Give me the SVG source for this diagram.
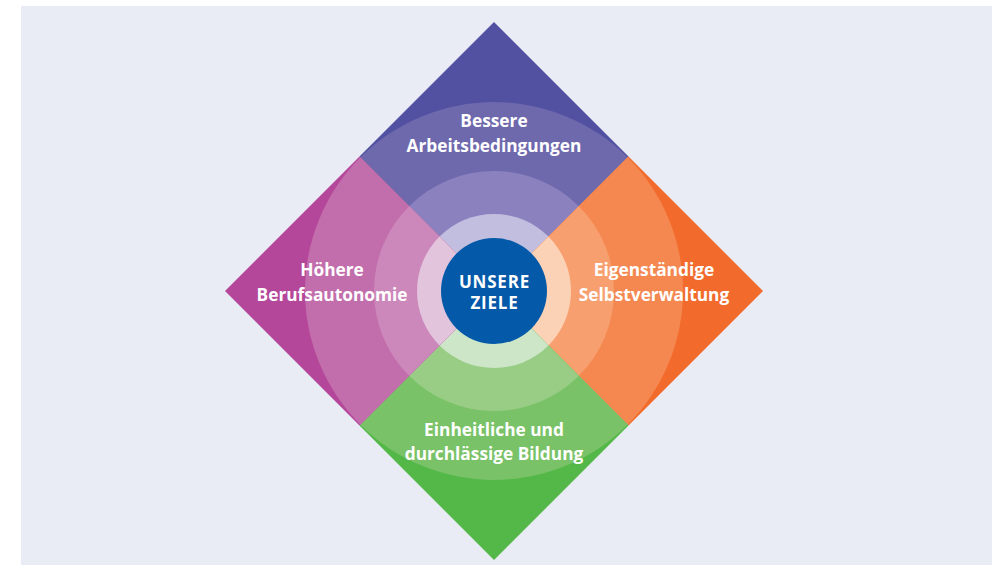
<svg xmlns="http://www.w3.org/2000/svg" width="992" height="565" viewBox="0 0 992 565">
  <style>
    .lbl { font-family: "Open Sans", "Noto Sans", "DejaVu Sans", sans-serif; font-weight: 700; font-size: 17.3px; fill: #ffffff; text-anchor: middle; }
    .ctr { font-family: "Open Sans", "Noto Sans", "DejaVu Sans", sans-serif; font-weight: 700; font-size: 17px; fill: #ffffff; text-anchor: middle; letter-spacing: 0.8px; }
  </style>
  <defs>
    <clipPath id="cTop"><polygon points="494,22 628.5,156.5 494,291 359.5,156.5"/></clipPath>
    <clipPath id="cRight"><polygon points="628.5,156.5 763,291 628.5,425.5 494,291"/></clipPath>
    <clipPath id="cBottom"><polygon points="494,291 628.5,425.5 494,560 359.5,425.5"/></clipPath>
    <clipPath id="cLeft"><polygon points="359.5,156.5 494,291 359.5,425.5 225,291"/></clipPath>
  </defs>
  <rect x="0" y="0" width="992" height="565" fill="#ffffff"/>
  <rect x="21" y="6" width="971" height="559" fill="#EAECF5"/>

  <g id="node-top">
    <polygon points="494,22 628.5,156.5 494,291 359.5,156.5" fill="#5150A1"/>
    <g clip-path="url(#cTop)">
      <circle cx="494" cy="291" r="189" fill="#6E68AD"/>
      <circle cx="494" cy="291" r="120" fill="#8A81BE"/>
      <circle cx="494" cy="291" r="77" fill="#C2BEDF"/>
    </g>
    <text class="lbl" x="494" y="127">Bessere</text>
    <text class="lbl" x="494" y="152">Arbeitsbedingungen</text>
  </g>

  <g id="node-right">
    <polygon points="628.5,156.5 763,291 628.5,425.5 494,291" fill="#F26B2D"/>
    <g clip-path="url(#cRight)">
      <circle cx="494" cy="291" r="189" fill="#F58851"/>
      <circle cx="494" cy="291" r="120" fill="#F79F6F"/>
      <circle cx="494" cy="291" r="77" fill="#FCD2B6"/>
    </g>
    <text class="lbl" x="654" y="276">Eigenständige</text>
    <text class="lbl" x="654" y="301">Selbstverwaltung</text>
  </g>

  <g id="node-bottom">
    <polygon points="494,291 628.5,425.5 494,560 359.5,425.5" fill="#53B848"/>
    <g clip-path="url(#cBottom)">
      <circle cx="494" cy="291" r="189" fill="#79C267"/>
      <circle cx="494" cy="291" r="120" fill="#99CD86"/>
      <circle cx="494" cy="291" r="77" fill="#CDE6C7"/>
    </g>
    <text class="lbl" x="494" y="436">Einheitliche und</text>
    <text class="lbl" x="494" y="460">durchlässige Bildung</text>
  </g>

  <g id="node-left">
    <polygon points="359.5,156.5 494,291 359.5,425.5 225,291" fill="#B4479A"/>
    <g clip-path="url(#cLeft)">
      <circle cx="494" cy="291" r="189" fill="#C26EAC"/>
      <circle cx="494" cy="291" r="120" fill="#CD88BB"/>
      <circle cx="494" cy="291" r="77" fill="#E3C4DD"/>
    </g>
    <text class="lbl" x="332" y="276">Höhere</text>
    <text class="lbl" x="332" y="301">Berufsautonomie</text>
  </g>

  <g id="node-center">
    <circle cx="494" cy="291" r="53" fill="#0459A8"/>
    <text class="ctr" x="494.5" y="288">UNSERE</text>
    <text class="ctr" x="494.5" y="309">ZIELE</text>
  </g>
</svg>
